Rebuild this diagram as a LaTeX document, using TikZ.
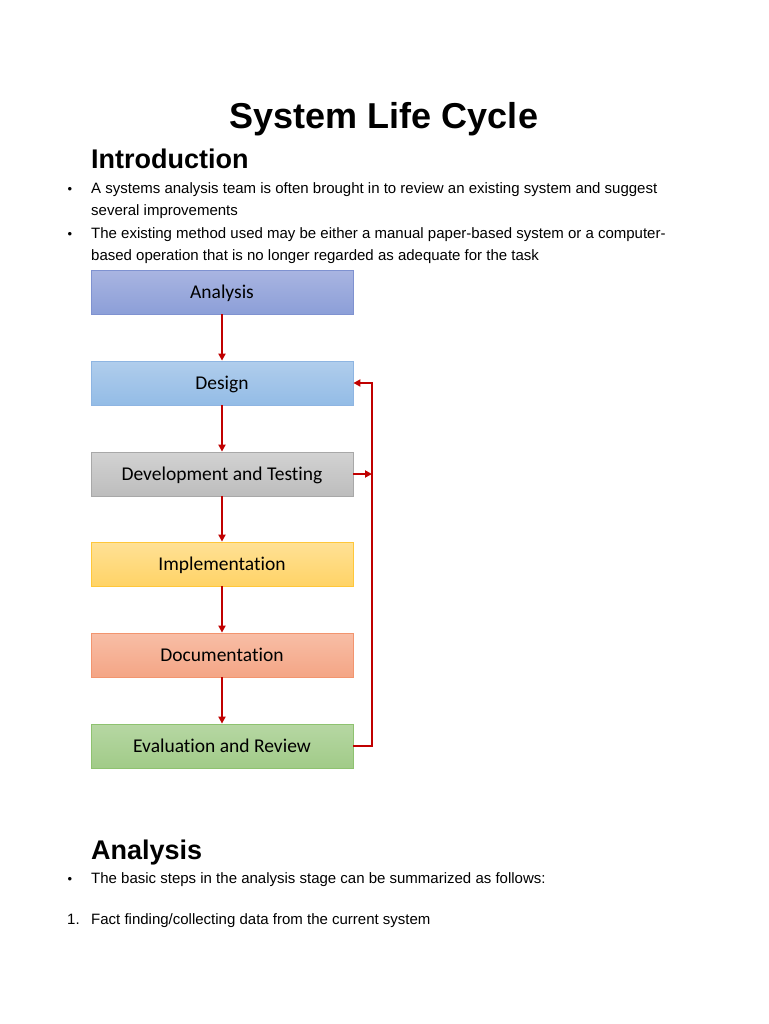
\documentclass[tikz,border=0pt]{standalone}
\usepackage{fontspec}
\setmainfont{Liberation Sans}
\newfontfamily\boxfont[RawFeature=-liga]{Carlito}
\usetikzlibrary{arrows.meta}
\definecolor{arrowred}{HTML}{C00000}
\definecolor{anB}{HTML}{7F92D0}\definecolor{anT}{HTML}{A9B5E1}\definecolor{anM}{HTML}{8C9FD8}
\definecolor{deB}{HTML}{8EB5E2}\definecolor{deT}{HTML}{B0CDEC}\definecolor{deM}{HTML}{93BCE6}
\definecolor{dtB}{HTML}{A8A8A8}\definecolor{dtT}{HTML}{D2D2D2}\definecolor{dtM}{HTML}{BDBDBD}
\definecolor{imB}{HTML}{FFC73A}\definecolor{imT}{HTML}{FFE196}\definecolor{imM}{HTML}{FFD366}
\definecolor{doB}{HTML}{F2956F}\definecolor{doT}{HTML}{F8BEA6}\definecolor{doM}{HTML}{F4A585}
\definecolor{evB}{HTML}{8EC270}\definecolor{evT}{HTML}{B6D7A3}\definecolor{evM}{HTML}{A1CB88}
\tikzset{
  stage/.style={draw=#1B, top color=#1T, bottom color=#1M, line width=0.8pt, minimum width=262pt, minimum height=44pt, inner sep=0pt, text height=12.5pt, text depth=0pt, font=\boxfont\fontsize{19.5}{21}\selectfont},
  flow/.style={draw=arrowred, line width=2pt, -{Triangle[length=7pt,width=7pt]}},
  bodytext/.style={anchor=base west, inner sep=0pt, font=\fontsize{15}{18}\selectfont},
  bul/.style={anchor=base west, inner sep=0pt, font=\fontsize{13}{14}\selectfont},
  head/.style={anchor=base west, inner sep=0pt, font=\bfseries\fontsize{27}{30}\selectfont},
}
\begin{document}
\begin{tikzpicture}[x=1pt,y=-1pt]
\useasboundingbox (0,0) rectangle (768,1024);
\fill[white] (0,0) rectangle (768,1024);
% title and headings
\node[anchor=base, inner sep=0pt, font=\bfseries\fontsize{36}{40}\selectfont] (title) at (384,129) {System Life Cycle};
\node[head] (intro) at (91,169) {Introduction};
\node[bul] (b1) at (67.5,194) {•};
\node[bodytext] (t1) at (91,194) {A systems analysis team is often brought in to review an existing system and suggest};
\node[bodytext] (t2) at (91,215) {several improvements};
\node[bul] (b2) at (67.5,239) {•};
\node[bodytext] (t3) at (91,239) {The existing method used may be either a manual paper-based system or a computer-};
\node[bodytext] (t4) at (91,260) {based operation that is no longer regarded as adequate for the task};
% boxes
\node[stage=an] (an) at (222,292) {Analysis};
\node[stage=de] (de) at (222,383) {Design};
\node[stage=dt] (dt) at (222,474) {Development and Testing};
\node[stage=im] (im) at (222,564) {Implementation};
\node[stage=do] (do) at (222,655) {Documentation};
\node[stage=ev] (ev) at (222,746) {Evaluation and Review};
% arrows
\draw[flow] (an.south) -- (de.north);
\draw[flow] (de.south) -- (dt.north);
\draw[flow] (dt.south) -- (im.north);
\draw[flow] (im.south) -- (do.north);
\draw[flow] (do.south) -- (ev.north);
\coordinate (fbb) at (372,746);
\coordinate (fbt) at (372,383);
\coordinate (fbm) at (372,474);
\draw[flow] (ev.east) -- (fbb) -- (fbt) -- (de.east);
\draw[flow] (dt.east) -- (fbm);
% analysis section
\node[head] (anh) at (91,859) {Analysis};
\node[bul] (b3) at (67.5,883) {•};
\node[bodytext] (t5) at (91,883) {The basic steps in the analysis stage can be summarized as follows:};
\node[bodytext] (n1) at (67,924) {1.};
\node[bodytext] (t6) at (91,924) {Fact finding/collecting data from the current system};
\end{tikzpicture}
\end{document}
